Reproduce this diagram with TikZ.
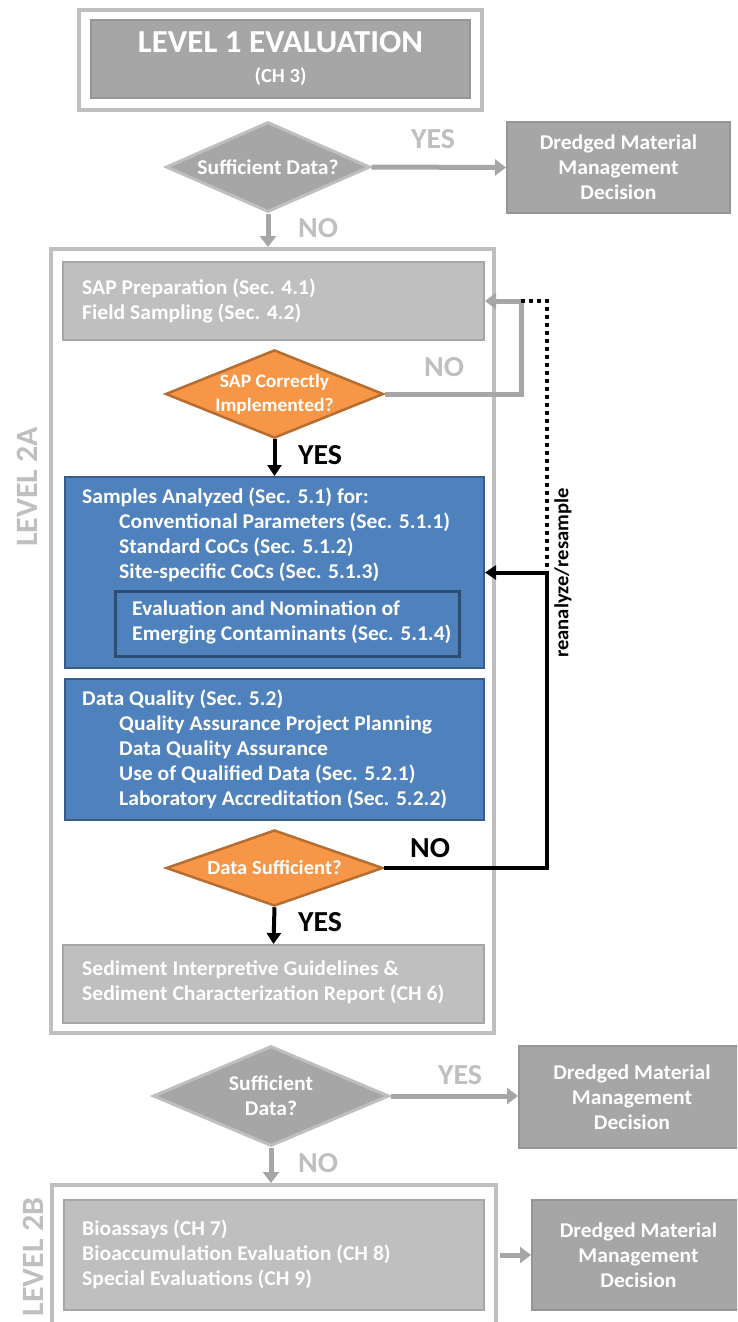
\documentclass[tikz,border=0pt]{standalone}
\usepackage{fontspec}
\setmainfont{Carlito}[FakeStretch=1.03]
\usetikzlibrary{shapes.geometric,arrows.meta}
\definecolor{gA}{HTML}{A6A6A6}
\definecolor{gB}{HTML}{BFBFBF}
\definecolor{gD}{HTML}{959595}
\definecolor{blueF}{HTML}{4F81BD}
\definecolor{blueB}{HTML}{385D8A}
\definecolor{blueI}{HTML}{2C4D75}
\definecolor{orF}{HTML}{F79646}
\definecolor{orB}{HTML}{B66D31}
\tikzset{
  frame/.style={draw=gB, line width=4pt, fill=white, rectangle, inner sep=0pt},
  darkbox/.style={draw=gD, line width=2pt, fill=gA, rectangle, inner sep=0pt, text=white, align=center},
  lightbox/.style={draw=gA, line width=2pt, fill=gB, rectangle, inner sep=0pt},
  bluebox/.style={draw=blueB, line width=2pt, fill=blueF, rectangle, inner sep=0pt},
  graydia/.style={diamond, draw=gB, line width=3pt, fill=gA, inner sep=0pt, text=white, align=center},
  oradia/.style={diamond, draw=orB, line width=2.5pt, fill=orF, inner sep=0pt, text=white, align=center},
  txt/.style={text=white, align=left, anchor=west, inner sep=0pt},
  garrow/.style={draw=gA, line width=5pt, -{Triangle[width=16pt,length=11pt]}},
  gline/.style={draw=gA, line width=5pt},
  barrow/.style={draw=black, line width=4pt, -{Triangle[width=14pt,length=11pt]}},
  big/.style={font=\bfseries\fontsize{29}{31}\selectfont},
  glabel/.style={big, text=gB},
  blabel/.style={big, text=black},
}
\newcommand{\ind}{\hspace*{37pt}}
\begin{document}
\begin{tikzpicture}[x=1pt,y=-1pt, font=\bfseries\fontsize{21}{25}\selectfont]
\useasboundingbox (0,0) rectangle (737,1322);
\clip (0,0) rectangle (737,1322);
\fill[white] (0,0) rectangle (737,1322);

% ---------- Level 1 ----------
\node[frame, minimum width=403, minimum height=100] (f1) at (280.5,60) {};
\node[darkbox, minimum width=379, minimum height=78] (l1) at (280.5,59)
  {{\fontsize{32}{34}\selectfont LEVEL 1 EVALUATION}\\[5pt]{\fontsize{20}{22}\selectfont (CH 3)}};

\node[graydia, aspect=2.27, minimum width=204, minimum height=90] (d1) at (268,167) {Sufficient Data?};
\node[darkbox, minimum width=223, minimum height=91] (m1) at (618.5,167.5) {Dredged Material\\Management\\Decision};
\draw[garrow] (d1.east) -- (m1.west);
\node[glabel] at (433,139) {YES};

% ---------- Level 2A ----------
\node[frame, minimum width=443, minimum height=784] (f2a) at (272.5,641) {};
\draw[garrow] (d1.south) -- (d1.south |- f2a.north);
\node[glabel] at (318,228) {NO};
\node[glabel, font=\bfseries\fontsize{31}{33}\selectfont, rotate=90] at (27,487) {LEVEL 2A};

\node[lightbox, minimum width=421, minimum height=78] (sap) at (273.5,301) {};
\node[txt] (saptxt) at (82,301) {SAP Preparation (Sec. 4.1)\\Field Sampling (Sec. 4.2)};

\node[oradia, aspect=2.47, minimum width=217, minimum height=88, font=\bfseries\fontsize{19}{24}\selectfont] (d2) at (274.5,394) {SAP Correctly\\Implemented?};

\coordinate (n1) at (521,301);
\coordinate (n2) at (547,301);
\coordinate (n3) at (547,572.5);
\draw[gline] (d2.east) -| (n1);
\draw[garrow] (n1) -- (sap.east);
\node[glabel] at (444,367) {NO};
\draw[black, line width=4pt, dash pattern=on 4pt off 4pt] (n1) -- (n2) -- (n3);

\node[bluebox, minimum width=419, minimum height=191] (s1) at (274.5,572.5) {};
\node[txt] (s1txt) at (82,534.5) {Samples Analyzed (Sec. 5.1) for:\\
\ind Conventional Parameters (Sec. 5.1.1)\\
\ind Standard CoCs (Sec. 5.1.2)\\
\ind Site-specific CoCs (Sec. 5.1.3)};
\node[bluebox, draw=blueI, line width=3pt, minimum width=344, minimum height=65] (s1in) at (287,623.5) {};
\node[txt] (s1intxt) at (132,622.5) {Evaluation and Nomination of\\Emerging Contaminants (Sec. 5.1.4)};

\draw[barrow] (d2.south) -- (s1.north);
\node[blabel] at (320,455) {YES};

\node[bluebox, minimum width=419, minimum height=141] (s2) at (274.5,749.5) {};
\node[txt] (s2txt) at (82,749) {Data Quality (Sec. 5.2)\\
\ind Quality Assurance Project Planning\\
\ind Data Quality Assurance\\
\ind Use of Qualified Data (Sec. 5.2.1)\\
\ind Laboratory Accreditation (Sec. 5.2.2)};

\node[oradia, aspect=2.86, minimum width=217, minimum height=76, font=\bfseries\fontsize{20}{24}\selectfont] (d3) at (274.5,868) {Data Sufficient?};
\draw[black, line width=4pt] (d3.east) -| (n3);
\draw[barrow] (n3) -- (s1.east);
\node[blabel] at (430,848) {NO};
\node[font=\bfseries\fontsize{20}{21}\selectfont, rotate=90, text=black] (rr) at (563,573) {reanalyze/resample};

\node[lightbox, minimum width=421, minimum height=78] (sed) at (273.5,984) {};
\node[txt] (sedtxt) at (82,982) {Sediment Interpretive Guidelines \&\\Sediment Characterization Report (CH 6)};
\draw[barrow] (d3.south) -- (sed.north);
\node[blabel] at (320,922) {YES};

% ---------- between ----------
\node[graydia, aspect=2.36, minimum width=236, minimum height=100] (d4) at (271,1096) {Sufficient\\Data?};
\node[darkbox, minimum width=226, minimum height=102] (m2) at (632,1097) {Dredged Material\\Management\\Decision};
\draw[garrow] (d4.east) -- (d4.east -| m2.west);
\node[glabel] at (460,1075) {YES};

% ---------- Level 2B ----------
\node[frame, minimum width=444, minimum height=146] (f2b) at (274,1258) {};
\draw[garrow] (d4.south) -- (d4.south |- f2b.north);
\node[glabel] at (318,1163) {NO};
\node[glabel, font=\bfseries\fontsize{31}{33}\selectfont, rotate=90] at (33,1257) {LEVEL 2B};
\node[lightbox, minimum width=420, minimum height=110] (bio) at (274,1255) {};
\node[txt] (biotxt) at (82,1254.5) {Bioassays (CH 7)\\Bioaccumulation Evaluation (CH 8)\\Special Evaluations (CH 9)};
\node[darkbox, minimum width=213, minimum height=110] (m3) at (638.5,1255) {Dredged Material\\Management\\Decision};
\draw[garrow] (f2b.east |- bio.east) ++(2,0) -- (m3.west);
\end{tikzpicture}
\end{document}
